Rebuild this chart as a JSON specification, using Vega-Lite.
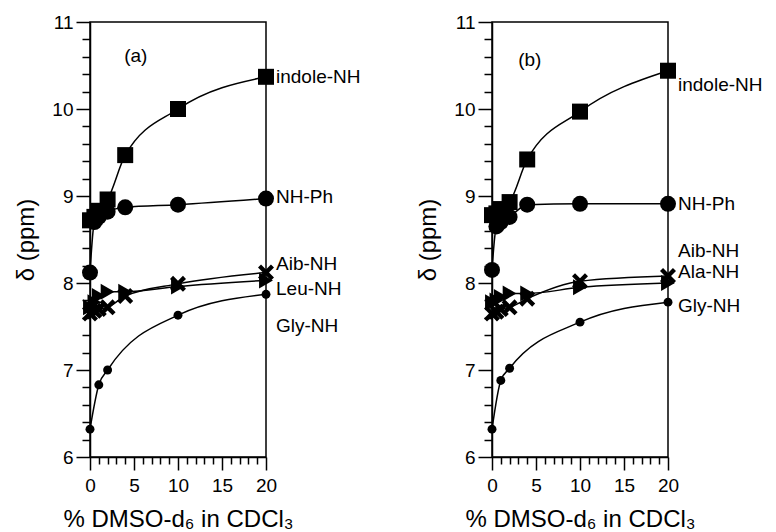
{
  "$schema": "https://vega.github.io/schema/vega-lite/v6.json",
  "padding": {"left": 14, "top": 12, "right": 5, "bottom": 0},
  "background": "white",
  "config": {
    "font": "Liberation Sans",
    "view": {"stroke": "black", "strokeWidth": 1.5},
    "axis": {
      "grid": false, "domainColor": "black", "domainWidth": 1.5,
      "tickColor": "black", "tickWidth": 1.5, "labelColor": "black", "titleColor": "black",
      "labelFontSize": 19, "titleFontSize": 24, "titleFontWeight": "normal",
      "labelOverlap": false, "labelFlush": false, "labelPadding": 3,
      "labelFont": "Liberation Sans", "titleFont": "Liberation Sans"
    }
  },
  "datasets": {
    "a": [
      {"series": "indole", "x": 0, "y": 8.72}, {"series": "indole", "x": 0.5, "y": 8.76}, {"series": "indole", "x": 1, "y": 8.83}, {"series": "indole", "x": 2, "y": 8.96}, {"series": "indole", "x": 4, "y": 9.47}, {"series": "indole", "x": 10, "y": 10.0}, {"series": "indole", "x": 20, "y": 10.37},
      {"series": "NHPh", "x": 0, "y": 8.12}, {"series": "NHPh", "x": 0.5, "y": 8.7}, {"series": "NHPh", "x": 1, "y": 8.76}, {"series": "NHPh", "x": 2, "y": 8.82}, {"series": "NHPh", "x": 4, "y": 8.87}, {"series": "NHPh", "x": 10, "y": 8.9}, {"series": "NHPh", "x": 20, "y": 8.97},
      {"series": "Aib", "x": 0, "y": 7.65}, {"series": "Aib", "x": 0.5, "y": 7.68}, {"series": "Aib", "x": 1, "y": 7.7}, {"series": "Aib", "x": 2, "y": 7.72}, {"series": "Aib", "x": 4, "y": 7.85}, {"series": "Aib", "x": 10, "y": 7.99}, {"series": "Aib", "x": 20, "y": 8.12},
      {"series": "Leu", "x": 0, "y": 7.72}, {"series": "Leu", "x": 0.5, "y": 7.78}, {"series": "Leu", "x": 1, "y": 7.85}, {"series": "Leu", "x": 2, "y": 7.9}, {"series": "Leu", "x": 4, "y": 7.9}, {"series": "Leu", "x": 10, "y": 7.96}, {"series": "Leu", "x": 20, "y": 8.03},
      {"series": "Gly", "x": 0, "y": 6.32}, {"series": "Gly", "x": 1, "y": 6.83}, {"series": "Gly", "x": 2, "y": 7.0}, {"series": "Gly", "x": 10, "y": 7.63}, {"series": "Gly", "x": 20, "y": 7.87}
    ],
    "b": [
      {"series": "indole", "x": 0, "y": 8.78}, {"series": "indole", "x": 0.5, "y": 8.8}, {"series": "indole", "x": 1, "y": 8.85}, {"series": "indole", "x": 2, "y": 8.93}, {"series": "indole", "x": 4, "y": 9.42}, {"series": "indole", "x": 10, "y": 9.97}, {"series": "indole", "x": 20, "y": 10.44},
      {"series": "NHPh", "x": 0, "y": 8.15}, {"series": "NHPh", "x": 0.5, "y": 8.65}, {"series": "NHPh", "x": 1, "y": 8.7}, {"series": "NHPh", "x": 2, "y": 8.76}, {"series": "NHPh", "x": 4, "y": 8.9}, {"series": "NHPh", "x": 10, "y": 8.91}, {"series": "NHPh", "x": 20, "y": 8.91},
      {"series": "Aib", "x": 0, "y": 7.65}, {"series": "Aib", "x": 0.5, "y": 7.67}, {"series": "Aib", "x": 1, "y": 7.7}, {"series": "Aib", "x": 2, "y": 7.72}, {"series": "Aib", "x": 4, "y": 7.82}, {"series": "Aib", "x": 10, "y": 8.02}, {"series": "Aib", "x": 20, "y": 8.08},
      {"series": "Ala", "x": 0, "y": 7.78}, {"series": "Ala", "x": 0.5, "y": 7.8}, {"series": "Ala", "x": 1, "y": 7.84}, {"series": "Ala", "x": 2, "y": 7.88}, {"series": "Ala", "x": 4, "y": 7.88}, {"series": "Ala", "x": 10, "y": 7.95}, {"series": "Ala", "x": 20, "y": 8.0},
      {"series": "Gly", "x": 0, "y": 6.32}, {"series": "Gly", "x": 1, "y": 6.88}, {"series": "Gly", "x": 2, "y": 7.02}, {"series": "Gly", "x": 10, "y": 7.55}, {"series": "Gly", "x": 20, "y": 7.78}
    ],
    "labelsA": [
      {"label": "indole-NH", "x": 20, "y": 10.37}, {"label": "NH-Ph", "x": 20, "y": 8.99},
      {"label": "Aib-NH", "x": 20, "y": 8.22}, {"label": "Leu-NH", "x": 20, "y": 7.93}, {"label": "Gly-NH", "x": 20, "y": 7.51}
    ],
    "labelsB": [
      {"label": "indole-NH", "x": 20, "y": 10.28}, {"label": "NH-Ph", "x": 20, "y": 8.91},
      {"label": "Aib-NH", "x": 20, "y": 8.37}, {"label": "Ala-NH", "x": 20, "y": 8.13}, {"label": "Gly-NH", "x": 20, "y": 7.74}
    ],
    "tagA": [{"label": "(a)", "x": 5.2, "y": 10.61}],
    "tagB": [{"label": "(b)", "x": 4.3, "y": 10.56}]
  },
  "spacing": 226,
  "bounds": "flush",
  "hconcat": [
    {
      "width": 176, "height": 435,
      "resolve": {"axis": {"x": "independent", "y": "independent"}},
      "layer": [
        {
          "data": {"name": "a"},
          "mark": {"type": "line", "color": "black", "strokeWidth": 1.5, "interpolate": "monotone"},
          "encoding": {
            "x": {"field": "x", "type": "quantitative", "scale": {"domain": [0, 20], "nice": false},
              "axis": {"orient": "bottom", "title": "% DMSO-d₆ in CDCl₃", "values": [0, 5, 10, 15, 20], "format": "d", "tickSize": 13, "labelPadding": 6, "titlePadding": 12}},
            "y": {"field": "y", "type": "quantitative", "scale": {"domain": [6, 11], "nice": false, "zero": false},
              "axis": {"orient": "left", "title": "δ (ppm)", "values": [6, 7, 8, 9, 10, 11], "format": "d", "tickSize": 14, "labelPadding": 3, "titlePadding": 13}},
            "detail": {"field": "series"}
          }
        },
        {
          "data": {"name": "a"},
          "transform": [{"filter": "datum.series !== 'Gly'"}],
          "mark": {"type": "point", "filled": true, "color": "black", "opacity": 1, "size": 256},
          "encoding": {
            "x": {"field": "x", "type": "quantitative",
              "axis": {"orient": "bottom", "title": null, "labels": false, "domain": false, "tickSize": 7, "values": [1,2,3,4,6,7,8,9,11,12,13,14,16,17,18,19]}},
            "y": {"field": "y", "type": "quantitative",
              "axis": {"orient": "left", "title": null, "labels": false, "domain": false, "tickSize": 8, "values": [6.2,6.4,6.6,6.8,7.2,7.4,7.6,7.8,8.2,8.4,8.6,8.8,9.2,9.4,9.6,9.8,10.2,10.4,10.6,10.8]}},
            "shape": {"field": "series", "legend": null, "scale": {"domain": ["indole","NHPh","Aib","Leu","Ala"], "range": ["square","circle","M-1,-0.62L-0.62,-1L0,-0.38L0.62,-1L1,-0.62L0.38,0L1,0.62L0.62,1L0,0.38L-0.62,1L-1,0.62L-0.38,0Z","triangle-right","triangle-right"]}}
          }
        },
        {
          "data": {"name": "a"},
          "transform": [{"filter": "datum.series === 'Gly'"}],
          "mark": {"type": "point", "shape": "circle", "filled": true, "color": "black", "opacity": 1, "size": 80},
          "encoding": {
            "x": {"field": "x", "type": "quantitative", "axis": null},
            "y": {"field": "y", "type": "quantitative", "axis": null}
          }
        },
        {
          "data": {"name": "labelsA"},
          "mark": {"type": "text", "align": "left", "baseline": "middle", "dx": 10, "fontSize": 19, "color": "black"},
          "encoding": {"x": {"field": "x", "type": "quantitative", "axis": null}, "y": {"field": "y", "type": "quantitative", "axis": null}, "text": {"field": "label"}}
        },
        {
          "data": {"name": "tagA"},
          "mark": {"type": "text", "align": "center", "baseline": "middle", "fontSize": 19, "color": "black"},
          "encoding": {"x": {"field": "x", "type": "quantitative", "axis": null}, "y": {"field": "y", "type": "quantitative", "axis": null}, "text": {"field": "label"}}
        }
      ]
    },
    {
      "width": 176, "height": 435,
      "resolve": {"axis": {"x": "independent", "y": "independent"}},
      "layer": [
        {
          "data": {"name": "b"},
          "mark": {"type": "line", "color": "black", "strokeWidth": 1.5, "interpolate": "monotone"},
          "encoding": {
            "x": {"field": "x", "type": "quantitative", "scale": {"domain": [0, 20], "nice": false},
              "axis": {"orient": "bottom", "title": "% DMSO-d₆ in CDCl₃", "values": [0, 5, 10, 15, 20], "format": "d", "tickSize": 13, "labelPadding": 6, "titlePadding": 12}},
            "y": {"field": "y", "type": "quantitative", "scale": {"domain": [6, 11], "nice": false, "zero": false},
              "axis": {"orient": "left", "title": "δ (ppm)", "values": [6, 7, 8, 9, 10, 11], "format": "d", "tickSize": 14, "labelPadding": 3, "titlePadding": 13}},
            "detail": {"field": "series"}
          }
        },
        {
          "data": {"name": "b"},
          "transform": [{"filter": "datum.series !== 'Gly'"}],
          "mark": {"type": "point", "filled": true, "color": "black", "opacity": 1, "size": 256},
          "encoding": {
            "x": {"field": "x", "type": "quantitative",
              "axis": {"orient": "bottom", "title": null, "labels": false, "domain": false, "tickSize": 7, "values": [1,2,3,4,6,7,8,9,11,12,13,14,16,17,18,19]}},
            "y": {"field": "y", "type": "quantitative",
              "axis": {"orient": "left", "title": null, "labels": false, "domain": false, "tickSize": 8, "values": [6.2,6.4,6.6,6.8,7.2,7.4,7.6,7.8,8.2,8.4,8.6,8.8,9.2,9.4,9.6,9.8,10.2,10.4,10.6,10.8]}},
            "shape": {"field": "series", "legend": null, "scale": {"domain": ["indole","NHPh","Aib","Leu","Ala"], "range": ["square","circle","M-1,-0.62L-0.62,-1L0,-0.38L0.62,-1L1,-0.62L0.38,0L1,0.62L0.62,1L0,0.38L-0.62,1L-1,0.62L-0.38,0Z","triangle-right","triangle-right"]}}
          }
        },
        {
          "data": {"name": "b"},
          "transform": [{"filter": "datum.series === 'Gly'"}],
          "mark": {"type": "point", "shape": "circle", "filled": true, "color": "black", "opacity": 1, "size": 80},
          "encoding": {
            "x": {"field": "x", "type": "quantitative", "axis": null},
            "y": {"field": "y", "type": "quantitative", "axis": null}
          }
        },
        {
          "data": {"name": "labelsB"},
          "mark": {"type": "text", "align": "left", "baseline": "middle", "dx": 10, "fontSize": 19, "color": "black"},
          "encoding": {"x": {"field": "x", "type": "quantitative", "axis": null}, "y": {"field": "y", "type": "quantitative", "axis": null}, "text": {"field": "label"}}
        },
        {
          "data": {"name": "tagB"},
          "mark": {"type": "text", "align": "center", "baseline": "middle", "fontSize": 19, "color": "black"},
          "encoding": {"x": {"field": "x", "type": "quantitative", "axis": null}, "y": {"field": "y", "type": "quantitative", "axis": null}, "text": {"field": "label"}}
        }
      ]
    }
  ]
}
